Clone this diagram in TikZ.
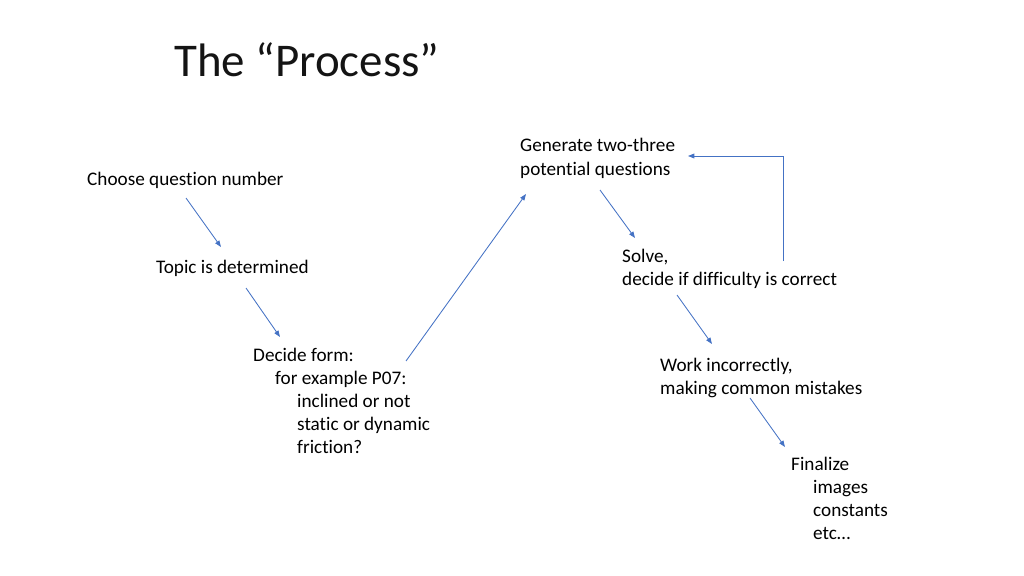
\documentclass[tikz,border=0pt]{standalone}
\usepackage{fontspec}
\setmainfont{Carlito}[Ligatures={NoCommon}]
\usetikzlibrary{arrows.meta}
\definecolor{arrowblue}{RGB}{68,114,196}
\definecolor{txt}{RGB}{0,0,0}
\definecolor{ttltxt}{RGB}{20,20,20}
\tikzset{
  lbl/.style={anchor=base west, inner sep=0pt, text=txt, font=\fontsize{18}{21.6}\selectfont},
  ttl/.style={anchor=base west, inner sep=0pt, text=ttltxt, font=\fontsize{44}{52}\selectfont},
  flow/.style={draw=arrowblue, line width=0.8pt, -{Triangle[length=6pt,width=4.5pt]}}
}
\begin{document}
\begin{tikzpicture}[x=0.9375pt, y=-0.9375pt]
\useasboundingbox (0,0) rectangle (1024,576);
% title
\node[ttl] (title) at (174,77) {The “Process”};
% text blocks
\node[lbl] (choose) at (87,185) {Choose question number};
\node[lbl] (topic) at (156,273) {Topic is determined};
\node[lbl] (form1) at (253,361) {Decide form:};
\node[lbl] (form2) at (275,384) {for example P07:};
\node[lbl] (form3) at (297,407) {inclined or not};
\node[lbl] (form4) at (297,430) {static or dynamic};
\node[lbl] (form5) at (297,453) {friction?};
\node[lbl] (gen1) at (520,152) {Generate two-three};
\node[lbl] (gen2) at (520,175) {potential questions};
\node[lbl] (solve1) at (622,262) {Solve,};
\node[lbl] (solve2) at (622,285) {decide if difficulty is correct};
\node[lbl] (work1) at (660,371) {Work incorrectly,};
\node[lbl] (work2) at (660,394) {making common mistakes};
\node[lbl] (fin1) at (791,470) {Finalize};
\node[lbl] (fin2) at (813,493) {images};
\node[lbl] (fin3) at (813,516) {constants};
\node[lbl] (fin4) at (813,539) {etc…};
% arrow end coordinates
\coordinate (a1s) at (186,198); \coordinate (a1e) at (221,247);
\coordinate (a2s) at (246,288); \coordinate (a2e) at (280,337);
\coordinate (a3s) at (406,361); \coordinate (a3e) at (526,194);
\coordinate (a4s) at (600,190); \coordinate (a4e) at (635,238);
\coordinate (a5s) at (677,295); \coordinate (a5e) at (712,344);
\coordinate (a6s) at (750,398); \coordinate (a6e) at (785,447);
\coordinate (l1) at (783,261); \coordinate (l2) at (783,156); \coordinate (l3) at (688,156);
\draw[flow] (a1s) -- (a1e);
\draw[flow] (a2s) -- (a2e);
\draw[flow] (a3s) -- (a3e);
\draw[flow] (a4s) -- (a4e);
\draw[flow] (a5s) -- (a5e);
\draw[flow] (a6s) -- (a6e);
\draw[flow] (l1) -- (l2) -- (l3);
\end{tikzpicture}
\end{document}
